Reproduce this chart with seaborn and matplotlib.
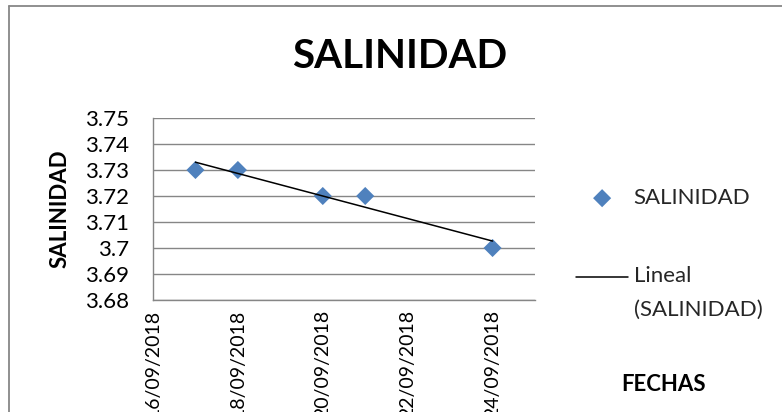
import numpy as np
import pandas as pd
import matplotlib
matplotlib.use("Agg")
import matplotlib.pyplot as plt
import matplotlib.dates as mdates
from matplotlib.lines import Line2D
from matplotlib.legend_handler import HandlerLine2D
import seaborn as sns

# Salinity readings by sampling date
fechas = ["17/09/2018", "18/09/2018", "20/09/2018", "21/09/2018", "24/09/2018"]
salinidad = [3.73, 3.73, 3.72, 3.72, 3.70]

# Axis ticks and range
x_ticks = ["16/09/2018", "18/09/2018", "20/09/2018", "22/09/2018", "24/09/2018"]
x_limits = ["16/09/2018", "25/09/2018"]
y_ticks = [3.68, 3.69, 3.70, 3.71, 3.72, 3.73, 3.74, 3.75]

sns.set_theme(style="white")
plt.rcParams["font.family"] = ["Lato", "DejaVu Sans"]

df = pd.DataFrame({"fecha": pd.to_datetime(fechas, dayfirst=True),
                   "salinidad": salinidad})
df["dia"] = mdates.date2num(df["fecha"])

W, H = 782, 412
fig = plt.figure(figsize=(W / 100, H / 100), dpi=100)
ax = fig.add_axes([153 / W, (H - 300) / H, (535 - 153) / W, (300 - 118) / H])

BLUE = "#4F81BD"
GRID = "#868686"
LINE_SPACING = 1.9
HANDLE_LIFT = 12.0  # points


class FirstLineHandler(HandlerLine2D):
    """Draw the line handle level with the first line of a two-line label."""

    def create_artists(self, legend, orig_handle, xdescent, ydescent,
                       width, height, fontsize, trans):
        artists = super().create_artists(legend, orig_handle, xdescent, ydescent,
                                         width, height, fontsize, trans)
        for a in artists:
            a.set_ydata(np.asarray(a.get_ydata()) + HANDLE_LIFT)
        return artists


sns.scatterplot(data=df, x="dia", y="salinidad", marker="D", s=85, color=BLUE,
                edgecolor="none", ax=ax, label="SALINIDAD", legend=False, zorder=3)
sns.regplot(data=df, x="dia", y="salinidad", scatter=False, ci=None, color="black",
            line_kws={"lw": 1.1, "zorder": 4}, ax=ax, label="Lineal\n(SALINIDAD)")

ax.set_xlim(mdates.date2num(pd.to_datetime(x_limits, dayfirst=True)))
ax.set_xticks(mdates.date2num(pd.to_datetime(x_ticks, dayfirst=True)))
ax.set_xticklabels(x_ticks, rotation=90, va="top", ha="center")
ax.set_ylim(min(y_ticks), max(y_ticks))
ax.set_yticks(y_ticks)
ax.set_yticklabels([f"{v:g}" for v in y_ticks])

ax.yaxis.grid(True, color=GRID, lw=1.0)
ax.xaxis.grid(False)
for side in ("top", "right"):
    ax.spines[side].set_visible(False)
for side in ("left", "bottom"):
    ax.spines[side].set_color(GRID)
    ax.spines[side].set_linewidth(1.0)
ax.tick_params(axis="both", length=0, colors="black")
ax.tick_params(axis="y", pad=17, labelsize=16)
ax.tick_params(axis="x", pad=7, labelsize=14)

ax.set_ylabel("SALINIDAD", fontsize=16, fontweight="bold", color="black")
ax.yaxis.set_label_coords((71 - 153) / 382, 0.5)
ax.set_xlabel("FECHAS", fontsize=16, fontweight="bold", color="black")
ax.xaxis.set_label_coords((664 - 153) / 382, (300 - 374) / 182)

fig.text(400 / W, 1 - 56 / H, "SALINIDAD", ha="center", va="center",
         fontsize=29, fontweight="bold", color="black")

handles, labels = ax.get_legend_handles_labels()
leg = fig.legend(handles, labels, loc="upper left",
                 bbox_to_anchor=(576 / W, 1 - 188 / H), frameon=False,
                 fontsize=16, handlelength=2.35, handletextpad=0.25,
                 borderpad=0, borderaxespad=0, labelspacing=2.6,
                 handler_map={Line2D: FirstLineHandler()})
for t in leg.get_texts():
    t.set_linespacing(LINE_SPACING)

# chart frame
fig.add_artist(Line2D([8.5 / W, 8.5 / W], [0, 1 - 6 / H], color="#878787",
                      lw=1.3, transform=fig.transFigure))
fig.add_artist(Line2D([8.5 / W, 1], [1 - 6 / H, 1 - 6 / H], color="#878787",
                      lw=1.3, transform=fig.transFigure))

fig.savefig("out.png", dpi=100)
